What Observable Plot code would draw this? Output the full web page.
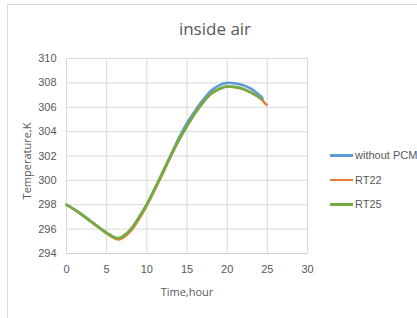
<!DOCTYPE html>
<html>
<head>
<meta charset="utf-8">
<script src="https://cdn.jsdelivr.net/npm/d3@7"></script>
<script src="https://cdn.jsdelivr.net/npm/@observablehq/plot@0.6"></script>
<style>
  html, body { margin: 0; padding: 0; background: #fff; }
  #wrap { position: relative; width: 417px; height: 318px; overflow: hidden; font-family: "Liberation Sans Narrow", "Liberation Sans", Arial, sans-serif; }
  #frame { position: absolute; left: 7px; top: 4px; width: 420px; height: 330px; border-top: 1px solid #d9d9d9; border-left: 1px solid #d9d9d9; }
  #title { position: absolute; left: 0; width: 430px; top: 17px; text-align: center; font-size: 17px; color: #595959; font-family: "Open Sans", "Liberation Sans", sans-serif; }
  #legend { position: absolute; left: 330px; top: 143px; font-size: 11px; color: #595959; white-space: nowrap; }
  .li { height: 24.5px; display: flex; align-items: center; }
  .sw { width: 23px; height: 2.5px; margin-right: 2px; flex: none; }
  #chart { position: absolute; left: 0; top: 0; }
</style>
</head>
<body>
<div id="wrap">
  <div id="frame"></div>
  <div id="chart"></div>
  <div id="title">inside air</div>
  <div id="legend"></div>
</div>
<script>
const seriesNames = ["without PCM", "RT22", "RT25"];
const seriesColors = ["#5B9BD5", "#ED7D31", "#70AD47"];

const timeNoPCM = [0,1,2,3,4,5,6,6.5,7,8,9,10,11,12,13,14,15,16,17,18,19,20,21,22,23,24,24.4];
const tempNoPCM = [298.0,297.6,297.15,296.65,296.15,295.7,295.3,295.22,295.35,295.95,296.9,298.0,299.3,300.7,302.1,303.5,304.7,305.7,306.6,307.35,307.8,308.0,307.95,307.8,307.5,307.0,306.75];

const timeRT22 = [0,1,2,3,4,5,6,6.5,7,8,9,10,11,12,13,14,15,16,17,18,19,20,21,22,23,24,24.9];
const tempRT22 = [298.0,297.6,297.15,296.65,296.15,295.65,295.25,295.15,295.28,295.85,296.8,297.95,299.25,300.6,302.0,303.3,304.45,305.5,306.4,307.1,307.5,307.7,307.65,307.5,307.2,306.8,306.2];

const timeRT25 = [0,1,2,3,4,5,6,6.5,7,8,9,10,11,12,13,14,15,16,17,18,19,20,21,22,23,24,24.4];
const tempRT25 = [298.0,297.6,297.15,296.65,296.15,295.7,295.32,295.27,295.4,296.0,296.95,298.05,299.35,300.7,302.05,303.35,304.45,305.5,306.4,307.1,307.5,307.7,307.65,307.5,307.2,306.8,306.6];

const xTicks = [0,5,10,15,20,25,30];
const yTicks = [294,296,298,300,302,304,306,308,310];

const rows = [];
[[timeNoPCM, tempNoPCM], [timeRT22, tempRT22], [timeRT25, tempRT25]].forEach(([ts, vs], i) => {
  ts.forEach((t, j) => rows.push({series: seriesNames[i], t, v: vs[j]}));
});

const chart = Plot.plot({
  width: 417,
  height: 318,
  marginLeft: 66,
  marginRight: 110,
  marginTop: 58,
  marginBottom: 65,
  style: { fontFamily: "'Liberation Sans Narrow', 'Liberation Sans', Arial, sans-serif", fontSize: "11px", color: "#595959", background: "transparent" },
  x: { domain: [0, 30], ticks: xTicks, label: null },
  y: { domain: [294, 310], ticks: yTicks, label: null },
  color: { domain: seriesNames, range: seriesColors },
  marks: [
    Plot.gridX(xTicks, { stroke: "#d9d9d9", strokeOpacity: 1, strokeWidth: 1 }),
    Plot.gridY(yTicks, { stroke: "#d9d9d9", strokeOpacity: 1, strokeWidth: 1 }),
    Plot.ruleY([294], { stroke: "#cfcfcf", strokeWidth: 1 }),
    Plot.axisX({ ticks: xTicks, tickSize: 0, tickPadding: 12, label: null, fill: "#595959", fontSize: 11 }),
    Plot.axisY({ ticks: yTicks, tickSize: 0, tickPadding: 10, label: null, fill: "#595959", fontSize: 11 }),
    Plot.line(rows, { x: "t", y: "v", z: "series", stroke: "series", strokeWidth: 2.6, curve: "catmull-rom" })
  ]
});
document.getElementById("chart").appendChild(chart);

const svg = d3.select(chart);
svg.append("text")
  .attr("transform", "translate(31,161) rotate(-90)")
  .attr("text-anchor", "middle")
  .attr("font-family", "'Open Sans', 'Liberation Sans', sans-serif")
  .attr("font-size", 11)
  .attr("fill", "#595959")
  .text("Temperature,K");
svg.append("text")
  .attr("x", 187).attr("y", 296)
  .attr("text-anchor", "middle")
  .attr("font-family", "'Open Sans', 'Liberation Sans', sans-serif")
  .attr("font-size", 11)
  .attr("fill", "#595959")
  .text("Time,hour");

const legend = d3.select("#legend");
seriesNames.forEach((n, i) => {
  const row = legend.append("div").attr("class", "li");
  row.append("div").attr("class", "sw").style("background", seriesColors[i]);
  row.append("span").text(n);
});
</script>
</body>
</html>
